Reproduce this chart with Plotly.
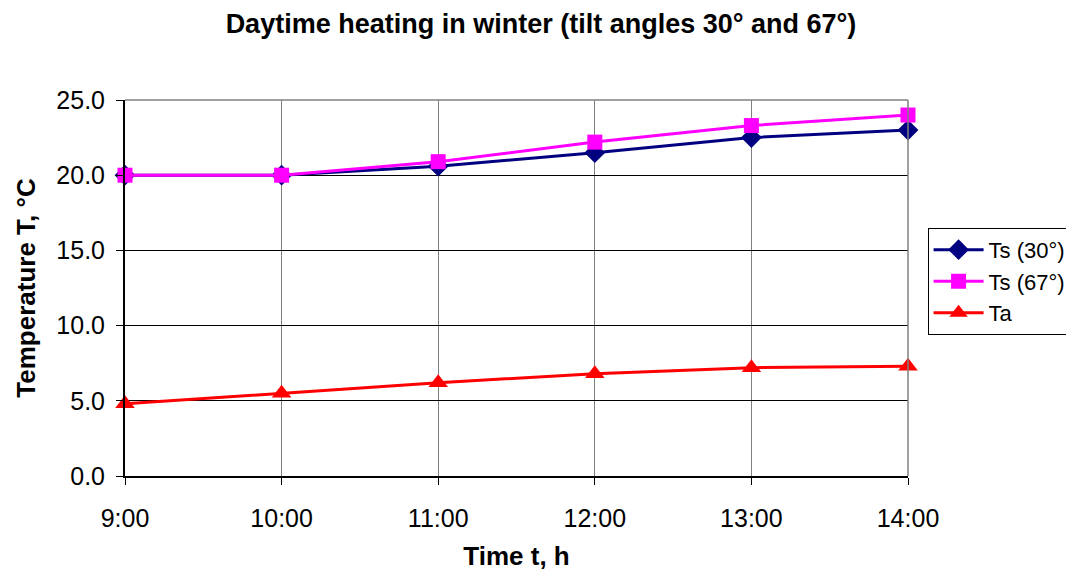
import plotly.graph_objects as go

times = ["9:00", "10:00", "11:00", "12:00", "13:00", "14:00"]
ts30 = [20.0, 20.0, 20.6, 21.5, 22.5, 23.0]
ts67 = [20.0, 20.0, 20.9, 22.2, 23.3, 24.0]
ta = [4.8, 5.5, 6.2, 6.8, 7.2, 7.3]
y_ticks = [0, 5, 10, 15, 20, 25]

xpos = list(range(len(times)))

fig = go.Figure()
fig.add_trace(go.Scatter(x=xpos, y=ts30, name="Ts (30°)", mode="lines+markers",
                         line=dict(color="#000080", width=3),
                         marker=dict(symbol="diamond", size=16, color="#000080"),
                         cliponaxis=False))
fig.add_trace(go.Scatter(x=xpos, y=ts67, name="Ts (67°)", mode="lines+markers",
                         line=dict(color="#FF00FF", width=3),
                         marker=dict(symbol="square", size=15, color="#FF00FF"),
                         cliponaxis=False))
fig.add_trace(go.Scatter(x=xpos, y=ta, name="Ta", mode="lines+markers",
                         line=dict(color="#FF0000", width=3),
                         marker=dict(symbol="triangle-up", size=17, color="#FF0000"),
                         cliponaxis=False))

font_family = "Liberation Sans, Arial, sans-serif"

fig.update_layout(
    width=1066, height=569,
    margin=dict(l=117, r=166, t=92, b=101, autoexpand=False),
    paper_bgcolor="white", plot_bgcolor="white",
    font=dict(family=font_family, color="black", size=25),
    title=dict(text="<b>Daytime heating in winter (tilt angles 30° and 67°)</b>",
               x=0.5, xanchor="center", y=0.972, yanchor="middle",
               font=dict(size=27)),
    showlegend=True,
    legend=dict(x=1.025, xanchor="left", y=0.66, yanchor="top",
                bordercolor="black", borderwidth=1, bgcolor="white",
                font=dict(size=22), tracegroupgap=0,
                itemwidth=50),
    xaxis=dict(range=[0, 5], tickmode="array", tickvals=xpos, ticktext=times,
               showgrid=True, gridcolor="#808080", gridwidth=1,
               showline=True, linecolor="black", linewidth=2,
               ticks="outside", ticklen=7, tickcolor="black",
               ticklabelstandoff=12,
               mirror=False, zeroline=False,
               title=dict(text="<b>Time t, h</b>", font=dict(size=26), standoff=16)),
    yaxis=dict(range=[0, 25], tickmode="array", tickvals=y_ticks,
               tickformat=".1f",
               showgrid=True, gridcolor="black", gridwidth=1,
               showline=True, linecolor="black", linewidth=2,
               ticks="outside", ticklen=7, tickcolor="black",
               ticklabelstandoff=6,
               zeroline=False,
               title=dict(text="<b>Temperature T, °C</b>", font=dict(size=26), standoff=13)),
)

# gray plot-area border on top and right
fig.add_shape(type="line", xref="paper", yref="paper", x0=0, x1=1, y0=1, y1=1,
              line=dict(color="#808080", width=1.5))
fig.add_shape(type="line", xref="paper", yref="paper", x0=1, x1=1, y0=0, y1=1,
              line=dict(color="#808080", width=1.5))

fig.write_html("out.html")
